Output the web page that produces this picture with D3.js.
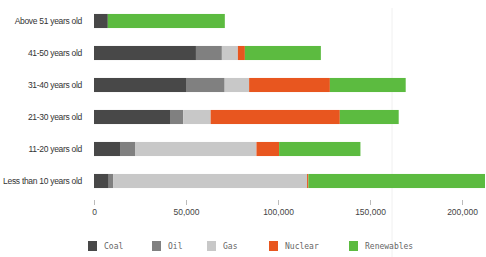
<!DOCTYPE html>
<html><head><meta charset="utf-8">
<script src="https://cdn.jsdelivr.net/npm/d3@7"></script>
<style>body{margin:0;background:#fff}svg{display:block}</style>
</head><body>
<script>
const categories = ["Above 51 years old","41-50 years old","31-40 years old","21-30 years old","11-20 years old","Less than 10 years old"];
const seriesNames = ["Coal","Oil","Gas","Nuclear","Renewables"];
const coal       = [7500, 55400, 50000, 41300, 14500, 8000];
const oil        = [0, 14100, 21000, 7200, 7800, 2500];
const gas        = [0, 8700, 13300, 14900, 66000, 105300];
const nuclear    = [0, 3800, 43900, 70200, 12300, 700];
const renewables = [63600, 41300, 41200, 32000, 44200, 96000];
const tickValues = [0, 50000, 100000, 150000, 200000];
const colors = ["#484848","#808080","#c8c8c8","#e8561f","#5cbb40"];

const W = 486, H = 257;
const svg = d3.select("body").append("svg").attr("width", W).attr("height", H);

// faint scan line
svg.append("line").attr("x1",392).attr("x2",392).attr("y1",8).attr("y2",H)
  .attr("stroke","#f0f0f0").attr("stroke-width",1);

const x = d3.scaleLinear().domain([0, 200000]).range([94, 462]);
const y = d3.scaleBand().domain(categories).range([5, 197]).paddingInner(0.56).paddingOuter(0.28);

const rows = categories.map((c,i)=>({cat:c, Coal:coal[i], Oil:oil[i], Gas:gas[i], Nuclear:nuclear[i], Renewables:renewables[i]}));
const stack = d3.stack().keys(seriesNames)(rows);

const g = svg.append("g");
g.selectAll("g.s").data(stack).join("g").attr("fill",(d,i)=>colors[i])
  .selectAll("rect").data(d=>d).join("rect")
  .attr("x", d=>x(d[0])).attr("width", d=>Math.max(0, x(d[1])-x(d[0])))
  .attr("y", d=>y(d.data.cat)).attr("height", y.bandwidth());

// category labels
svg.append("g").selectAll("text").data(categories).join("text")
  .attr("x", 82).attr("y", d=>y(d)+y.bandwidth()/2)
  .attr("text-anchor","end").attr("dominant-baseline","central")
  .attr("font-family","Liberation Sans, Arial, sans-serif").attr("font-size",8.5)
  .attr("fill","#333").attr("letter-spacing","-0.3")
  .text(d=>d);

// x axis
const axis = d3.axisBottom(x).tickValues(tickValues).tickSize(5).tickPadding(4).tickFormat(d3.format(","));
const ax = svg.append("g").attr("transform","translate(0,200)").call(axis);
ax.select(".domain").remove();
ax.selectAll(".tick line").attr("stroke","#bbb");
ax.selectAll(".tick text").attr("font-family","Liberation Sans, Arial, sans-serif").attr("font-size",8.5).attr("fill","#444");

// legend
const legX = [88, 152, 207, 269, 349];
const leg = svg.append("g").selectAll("g").data(seriesNames).join("g")
  .attr("transform",(d,i)=>`translate(${legX[i]},241)`);
leg.append("rect").attr("width",9).attr("height",10).attr("fill",(d,i)=>colors[i]);
leg.append("text").attr("x",16).attr("y",5).attr("dominant-baseline","central")
  .attr("font-family","DejaVu Sans Mono, monospace").attr("font-size",8).attr("fill","#666")
  .text(d=>d);
</script>
</body></html>
